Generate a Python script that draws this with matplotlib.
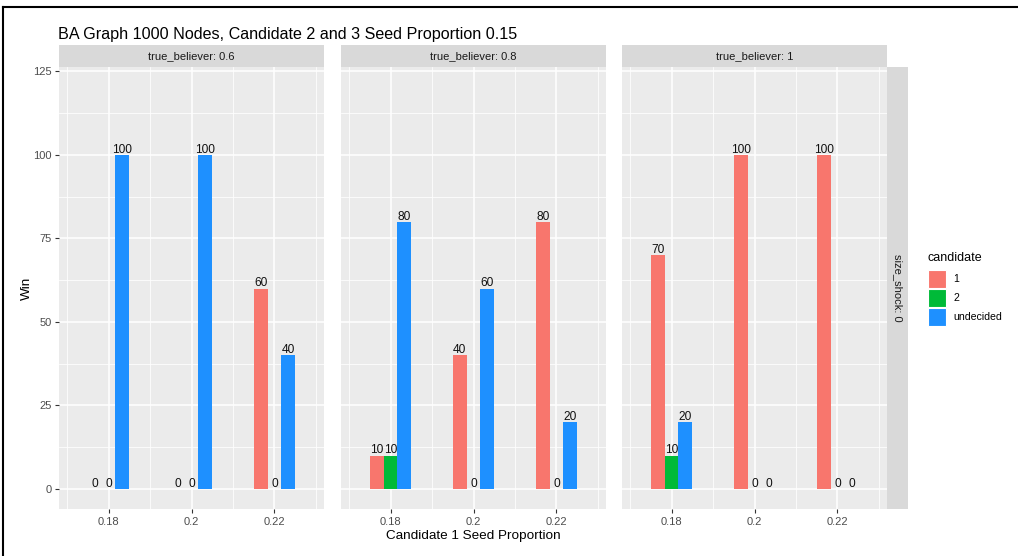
import matplotlib
matplotlib.use("Agg")
import matplotlib.pyplot as plt
from matplotlib.patches import Rectangle
from matplotlib.lines import Line2D

plt.rcParams['font.family'] = ['Liberation Sans', 'DejaVu Sans']

# ---- data ----
seed_props = [0.18, 0.20, 0.22]
seed_labels = ['0.18', '0.2', '0.22']
believer_levels = ['0.6', '0.8', '1']
candidates = ['1', '2', 'undecided']
cand_colors = ['#F8766D', '#00BA38', '#1E90FF']

# wins per candidate at each seed proportion, one block per true_believer level
wins_tb06_c1 = [0, 0, 60]
wins_tb06_c2 = [0, 0, 0]
wins_tb06_und = [100, 100, 40]

wins_tb08_c1 = [10, 40, 80]
wins_tb08_c2 = [10, 0, 0]
wins_tb08_und = [80, 60, 20]

wins_tb10_c1 = [70, 100, 100]
wins_tb10_c2 = [10, 0, 0]
wins_tb10_und = [20, 0, 0]

panels = [
    [wins_tb06_c1, wins_tb06_c2, wins_tb06_und],
    [wins_tb08_c1, wins_tb08_c2, wins_tb08_und],
    [wins_tb10_c1, wins_tb10_c2, wins_tb10_und],
]

# ---- layout (pixels) ----
W, H = 1018, 556
fig = plt.figure(figsize=(W / 100, H / 100), dpi=100)
fig.patch.set_facecolor('white')


def rect(x0, y0, x1, y1):
    return [x0 / W, 1 - y1 / H, (x1 - x0) / W, (y1 - y0) / H]


panel_x = [(59, 324), (341, 606), (622, 887)]
panel_top, panel_bot = 67, 509
strip_top = 45

bar_w = 0.02 / 6
offsets = [-bar_w, 0, bar_w]

for i, (x0, x1) in enumerate(panel_x):
    ax = fig.add_axes(rect(x0, panel_top, x1, panel_bot))
    ax.set_facecolor('#EBEBEB')
    for s in ax.spines.values():
        s.set_visible(False)
    ax.set_xlim(0.2 - 0.03193, 0.2 + 0.03193)
    ax.set_ylim(-6, 126.3)
    ax.set_xticks(seed_props)
    ax.set_xticklabels(seed_labels)
    ax.set_xticks([0.17, 0.19, 0.21, 0.23], minor=True)
    ax.set_yticks([0, 25, 50, 75, 100, 125])
    ax.set_yticks([12.5, 37.5, 62.5, 87.5, 112.5], minor=True)
    ax.grid(which='major', color='white', linewidth=1.1)
    ax.grid(which='minor', color='white', linewidth=0.55)
    ax.set_axisbelow(True)
    ax.tick_params(which='major', length=3, width=0.8, color='#333333',
                   labelcolor='#4D4D4D', labelsize=8, pad=2.5)
    ax.tick_params(which='minor', length=0)
    if i == 0:
        ax.set_yticklabels(['0', '25', '50', '75', '100', '125'])
    else:
        ax.tick_params(axis='y', which='major', left=False, labelleft=False)

    for c, vals in enumerate(panels[i]):
        xs = [p + offsets[c] for p in seed_props]
        ax.bar(xs, vals, width=bar_w, color=cand_colors[c], linewidth=0)
        for x, v in zip(xs, vals):
            ax.annotate(str(v), (x, v), xytext=(0, 1.5), textcoords='offset points',
                        ha='center', va='baseline', fontsize=8.6, color='#111111')

    # facet strip
    sax = fig.add_axes(rect(x0, strip_top, x1, panel_top))
    sax.set_facecolor('#D9D9D9')
    sax.set_xticks([]); sax.set_yticks([])
    for s in sax.spines.values():
        s.set_visible(False)
    sax.text(0.5, 0.5, f'true_believer: {believer_levels[i]}', ha='center', va='center',
             fontsize=8, color='#1A1A1A', transform=sax.transAxes)

# right-hand row strip
rax = fig.add_axes(rect(887, panel_top, 908, panel_bot))
rax.set_facecolor('#D9D9D9')
rax.set_xticks([]); rax.set_yticks([])
for s in rax.spines.values():
    s.set_visible(False)
rax.text(0.5, 0.5, 'size_shock: 0', rotation=-90, ha='center', va='center',
         fontsize=8, color='#1A1A1A', transform=rax.transAxes)

# titles
fig.text(58 / W, 1 - 39 / H, 'BA Graph 1000 Nodes, Candidate 2 and 3 Seed Proportion 0.15',
         ha='left', va='baseline', fontsize=11.6, color='black')
fig.text(27 / W, 1 - 288 / H, 'Win', rotation=90, ha='center', va='center',
         fontsize=9.7, color='black')
fig.text(473 / W, 1 - 536 / H, 'Candidate 1 Seed Proportion', ha='center', va='center',
         fontsize=9.7, color='black')

# legend
fig.text(927 / W, 1 - 258 / H, 'candidate', ha='left', va='center', fontsize=9, color='black')
key_tops = [270, 289, 308]
for c, top in enumerate(key_tops):
    fig.add_artist(Rectangle((928 / W, 1 - (top + 18) / H), 18 / W, 18 / H,
                             transform=fig.transFigure, facecolor=cand_colors[c],
                             edgecolor='white', linewidth=0.8))
    fig.text(953 / W, 1 - (top + 9) / H, candidates[c], ha='left', va='center',
             fontsize=7.6, color='black')

# frame lines along top and left edge
fig.add_artist(Line2D([3 / W, 1], [1 - 7 / H, 1 - 7 / H], transform=fig.transFigure,
                      color='black', linewidth=1.5))
fig.add_artist(Line2D([3 / W, 3 / W], [0, 1 - 7 / H], transform=fig.transFigure,
                      color='black', linewidth=1.5))

fig.savefig('out.png', dpi=100)
